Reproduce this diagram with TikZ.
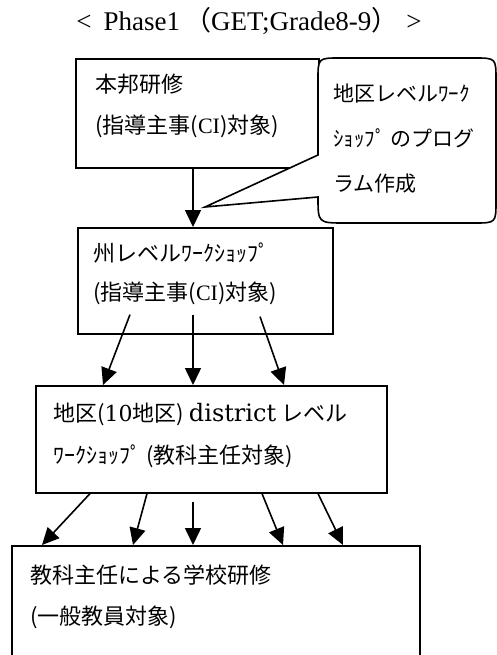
\documentclass[tikz,border=0pt]{standalone}
\usepackage{fontspec}
\setmainfont{Liberation Serif}
\newfontfamily\jp{Noto Sans CJK JP}
\newfontfamily\lat{Liberation Serif}
\newfontfamily\cent{DejaVu Serif}
\usetikzlibrary{arrows.meta}
\begin{document}
\begin{tikzpicture}[x=1pt,y=-1pt,
  box/.style={draw,line width=1.6pt,inner sep=0pt,anchor=north west},
  txt/.style={anchor=west,inner sep=0pt,font=\jp\fontsize{22pt}{27pt}\selectfont},
  ctxt/.style={anchor=west,inner sep=0pt,font=\jp\fontsize{21pt}{26pt}\selectfont},
  arr/.style={line width=1.6pt,-{Triangle[width=16pt,length=17pt]}},
  callout/.style={draw,fill=white,line width=1.6pt,line join=miter}]
\useasboundingbox (0,0) rectangle (497,655);
\clip (0,0) rectangle (497,655);
% title
\node[inner sep=0pt,font=\fontsize{27pt}{32pt}\selectfont] (title) at (249,21)
  {<\hspace{12pt}Phase1\hspace{4pt}{\jp （}GET;Grade8-9{\jp ）}\hspace{8pt}>};
% boxes
\node[box,minimum width=243pt,minimum height=109pt] (b1) at (75,58) {};
\node[box,minimum width=255pt,minimum height=106pt] (b2) at (77,227) {};
\node[box,minimum width=351pt,minimum height=107pt] (b3) at (35,385) {};
\node[box,minimum width=408pt,minimum height=140pt] (b4) at (11,545) {};
% callout
\draw[callout] (318,155) -- (318,80) .. controls (318,58) .. (340,58) -- (474,58)
  .. controls (496,58) .. (496,80) -- (496,201) .. controls (496,223) .. (474,223)
  -- (345,223) .. controls (318,223) .. (318,197) -- (205,207) -- cycle;
% texts
\node[txt] (t1a) at (95,84) {本邦研修};
\node[txt] (t1b) at (95,126) {(指導主事({\lat CI})対象)};
\node[ctxt] (c1) at (333,94) {地区レベルﾜｰｸ};
\node[ctxt] (c2) at (333,138) {ｼｮｯﾌﾟ のプログ};
\node[ctxt] (c3) at (333,184) {ラム作成};
\node[txt] (t2a) at (93,253) {州レベルﾜｰｸｼｮｯﾌﾟ};
\node[txt] (t2b) at (93,293) {(指導主事({\lat CI})対象)};
\node[txt] (t3a) at (53,414) {地区({\cent 10}地区) {\cent\fontsize{24pt}{28pt}\selectfont district} レベル};
\node[txt] (t3b) at (53,456) {ﾜｰｸｼｮｯﾌﾟ (教科主任対象)};
\node[txt] (t4a) at (30,575) {教科主任による学校研修};
\node[txt] (t4b) at (30,617) {(一般教員対象)};
% arrows
\draw[arr] ([xshift=118pt]b1.south west) -- ([xshift=116pt]b2.north west);
\draw[arr] ([xshift=53pt,yshift=20pt]b2.south west) -- ([xshift=68pt]b3.north west);
\draw[arr] ([xshift=116pt,yshift=20pt]b2.south west) -- ([xshift=158pt]b3.north west);
\draw[arr] ([xshift=183pt,yshift=18pt]b2.south west) -- ([xshift=249pt]b3.north west);
\draw[arr] ([xshift=55pt]b3.south west) -- ([xshift=31pt]b4.north west);
\draw[arr] ([xshift=112pt]b3.south west) -- ([xshift=122pt]b4.north west);
\draw[arr] ([xshift=158pt,yshift=-8pt]b3.south west) -- ([xshift=182pt]b4.north west);
\draw[arr] ([xshift=227pt]b3.south west) -- ([xshift=272pt]b4.north west);
\draw[arr] ([xshift=283pt]b3.south west) -- ([xshift=332pt]b4.north west);
\end{tikzpicture}
\end{document}
